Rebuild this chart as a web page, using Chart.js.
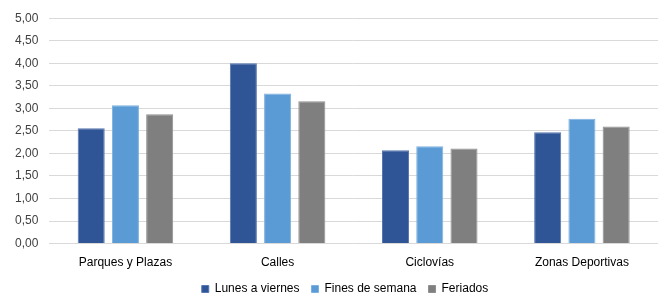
<!DOCTYPE html>
<html>
<head>
<meta charset="utf-8">
<script src="https://cdn.jsdelivr.net/npm/chart.js@4"></script>
<style>
    html, body { margin: 0; padding: 0; background: #fff; }
    #wrap { width: 665px; height: 293px; }
</style>
</head>
<body>
<div id="wrap"><canvas id="chart" width="665" height="293"></canvas></div>
<script>
// ------------------------------------------------------------
// DATA
// ------------------------------------------------------------
const categories = ["Parques y Plazas", "Calles", "Ciclovías", "Zonas Deportivas"];
const seriesNames = ["Lunes a viernes", "Fines de semana", "Feriados"];
const weekdays = [2.56, 4.00, 2.07, 2.47];
const weekends = [3.07, 3.33, 2.16, 2.77];
const holidays = [2.87, 3.16, 2.11, 2.60];
const yMin = 0;
const yMax = 5;
const yStep = 0.5;

const colors = ["#2F5597", "#5B9BD5", "#7F7F7F"];
const borders = ["#5677B0", "#7DB1E0", "#8F8F8F"];

// comma decimals like the original spreadsheet
function fmt(v) {
    return v.toFixed(2).replace(".", ",");
}

// legend in the original sits a bit right of centre
const legendShift = {
    id: "legendShift",
    afterLayout(chart) {
        chart.legend.left += 14;
        chart.legend.right += 14;
    }
};

function initChart() {
    const ctx = document.getElementById("chart").getContext("2d");
    const values = [weekdays, weekends, holidays];

    new Chart(ctx, {
        type: "bar",
        data: {
            labels: categories,
            datasets: seriesNames.map((name, i) => ({
                label: name,
                data: values[i],
                backgroundColor: colors[i],
                borderColor: borders[i],
                borderWidth: 1,
                categoryPercentage: 0.675,
                barPercentage: 0.79
            }))
        },
        plugins: [legendShift],
        options: {
            responsive: false,
            animation: false,
            layout: { padding: { top: 11, right: 7, left: 4, bottom: -12 } },
            scales: {
                y: {
                    min: yMin,
                    max: yMax,
                    border: { display: false },
                    grid: { color: "#D9D9D9", lineWidth: 1, drawTicks: false },
                    ticks: {
                        stepSize: yStep,
                        padding: 11,
                        color: "#404040",
                        font: { family: "Liberation Sans", size: 12 },
                        callback: v => fmt(v)
                    }
                },
                x: {
                    border: { display: false },
                    grid: { display: false },
                    // squeeze the axis box so the plot reaches lower
                    afterFit: scale => { scale.height -= 3; },
                    ticks: {
                        color: "#000",
                        padding: 4,
                        font: { family: "Liberation Sans", size: 12 }
                    }
                }
            },
            plugins: {
                tooltip: { enabled: false },
                legend: {
                    position: "bottom",
                    labels: {
                        boxWidth: 7,
                        boxHeight: 7,
                        padding: 12,
                        color: "#000",
                        font: { family: "Liberation Sans", size: 12 }
                    }
                }
            }
        }
    });
}

document.addEventListener("DOMContentLoaded", initChart);
</script>
</body>
</html>
